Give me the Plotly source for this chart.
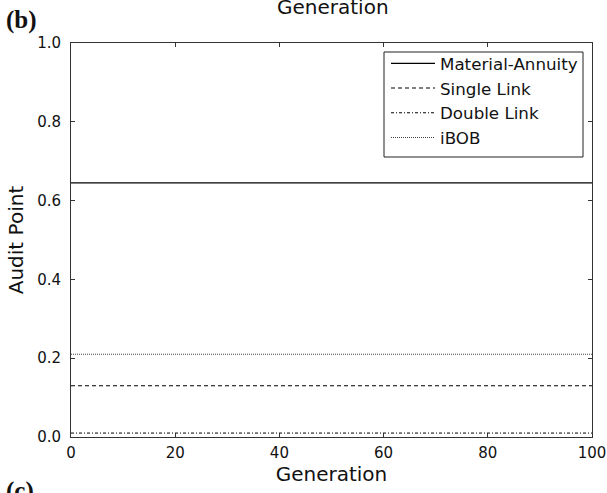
import plotly.graph_objects as go

generation = [0, 100]
series_names = ["Material-Annuity", "Single Link", "Double Link", "iBOB"]
material_annuity = [0.645, 0.645]
single_link = [0.13, 0.13]
double_link = [0.01, 0.01]
ibob = [0.21, 0.21]
x_ticks = [0, 20, 40, 60, 80, 100]
y_ticks = [0.0, 0.2, 0.4, 0.6, 0.8, 1.0]
y_tick_labels = ["0.0", "0.2", "0.4", "0.6", "0.8", "1.0"]

FONT = "DejaVu Sans"
W, H = 607, 493
L, R, T, B = 71, 15, 43, 56
pw = W - L - R
ph = H - T - B


def px_x(p):
    return (p - L) / pw


def px_y(p):
    return 1 - (p - T) / ph


fig = go.Figure()
styles = [("solid", 1.2, "#000"), ("4px,3px", 1.1, "#000"), ("3px,2px,1px,2px", 1.0, "#000"), ("1px,1px", 1.0, "#444")]
for name, vals, (dash, w, c) in zip(series_names, [material_annuity, single_link, double_link, ibob], styles):
    fig.add_trace(go.Scatter(x=generation, y=vals, mode="lines", name=name,
                             line=dict(color=c, width=w, dash=dash)))

axis_common = dict(showgrid=False, zeroline=False, showline=True, linecolor="#333", linewidth=1,
                   mirror="allticks", ticks="inside", ticklen=4, tickcolor="#333", automargin=False,
                   tickfont=dict(family=FONT, size=15, color="#111"))
fig.update_xaxes(range=[0, 100], tickvals=x_ticks, ticktext=[str(v) for v in x_ticks],
                 ticklabelstandoff=2,
                 title=dict(text="Generation", font=dict(family=FONT, size=20, color="#111"), standoff=4),
                 **axis_common)
fig.update_yaxes(range=[0, 1.0], tickvals=y_ticks, ticktext=y_tick_labels,
                 ticklabelstandoff=6,
                 title=dict(text="Audit Point", font=dict(family=FONT, size=20, color="#111"), standoff=8),
                 **axis_common)

fig.update_layout(
    width=W, height=H, margin=dict(l=L, r=R, t=T, b=B),
    paper_bgcolor="white", plot_bgcolor="white",
    font=dict(family=FONT, color="#111"),
    legend=dict(x=px_x(583), y=px_y(46), xanchor="right", yanchor="top",
                bgcolor="rgba(0,0,0,0)", borderwidth=0,
                font=dict(family=FONT, size=16.7, color="#111"), itemwidth=44),
    shapes=[dict(type="rect", xref="paper", yref="paper", x0=px_x(384), x1=px_x(583),
                 y0=px_y(157), y1=px_y(52), line=dict(color="#222", width=1),
                 fillcolor="white", layer="above")],
    annotations=[
        dict(text="Generation", xref="paper", yref="paper", x=px_x(333), y=px_y(21),
             xanchor="center", yanchor="bottom", showarrow=False,
             font=dict(family=FONT, size=20, color="#111")),
        dict(text="<b>(b)</b>", xref="paper", yref="paper", x=px_x(4), y=px_y(36),
             xanchor="left", yanchor="bottom", showarrow=False,
             font=dict(family="Liberation Serif", size=25, color="#111")),
        dict(text="<b>(c)</b>", xref="paper", yref="paper", x=px_x(4), y=px_y(475),
             xanchor="left", yanchor="top", showarrow=False,
             font=dict(family="Liberation Serif", size=25, color="#111")),
    ],
)

fig.write_html("out.html", config={"displayModeBar": False},
               post_script="document.body.style.margin='0';document.body.style.overflow='hidden';")
